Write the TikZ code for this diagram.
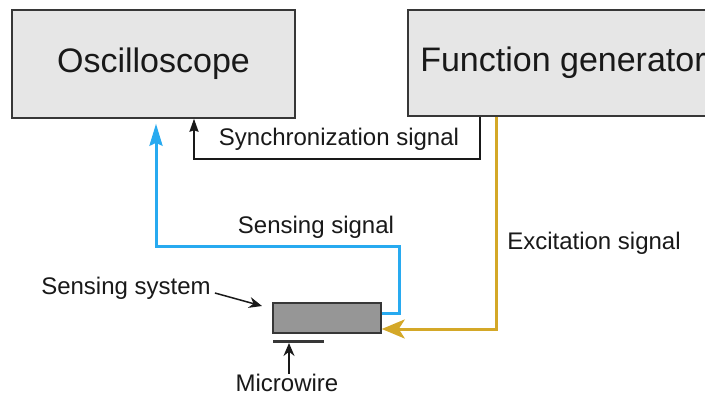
\documentclass[tikz,border=0pt]{standalone}
\usepackage{fontspec}
\setmainfont{Liberation Sans}
\usetikzlibrary{arrows.meta}
\definecolor{boxfill}{RGB}{230,230,230}
\definecolor{boxline}{RGB}{55,55,55}
\definecolor{sigblue}{RGB}{40,170,240}
\definecolor{siggold}{RGB}{212,168,40}
\definecolor{sensfill}{RGB}{150,150,150}
\definecolor{txt}{RGB}{25,25,25}
\tikzset{
  bigbox/.style={draw=boxline, line width=1.5pt, fill=boxfill, inner sep=0pt, text=txt, font=\fontsize{34}{40}\selectfont},
  lbl/.style={inner sep=0pt, text=txt, font=\fontsize{24}{29}\selectfont},
  syncline/.style={draw=txt, line width=1.8pt, -{Stealth[length=13pt,width=9pt,inset=1.5pt]}},
  blueline/.style={draw=sigblue, line width=3pt, -{Stealth[length=22pt,width=13pt,inset=3pt]}},
  goldline/.style={draw=siggold, line width=3pt, -{Stealth[length=23pt,width=19pt,inset=6pt]}},
  pointer/.style={draw=txt, line width=1.5pt, -{Stealth[length=13pt,width=11pt]}}
}
\begin{document}
\begin{tikzpicture}[x=1pt,y=-1pt]
\clip (0,0) rectangle (705,396);
\fill[white] (0,0) rectangle (705,396);
% boxes
\node[bigbox, minimum width=283pt, minimum height=108pt] (osc) at (153.5,64) {Oscilloscope};
\node[bigbox, minimum width=310pt, minimum height=106pt] (fg) at (563,63) {Function generator};
% sensing element
\node[draw=boxline, line width=1.5pt, fill=sensfill, minimum width=108pt, minimum height=30pt, inner sep=0pt] (sens) at (327,318) {};
\coordinate (mwL) at (273,341);
\coordinate (mwR) at (324,341);
\draw[draw=boxline, line width=3pt] (mwL) -- (mwR);
% labels
\node[lbl] (synclbl) at (339,139) {Synchronization signal};
\node[lbl] (senslbl) at (316,227) {Sensing signal};
\node[lbl] (exclbl) at (594,243) {Excitation signal};
\node[lbl] (syslbl) at (126,288) {Sensing system};
\node[lbl] (mwlbl) at (287,383) {Microwire};
% synchronization connector
\coordinate (syncR) at (480,159);
\coordinate (syncL) at (194,159);
\draw[syncline] (fg.south -| syncR) -- (syncR) -- (syncL) -- (osc.south -| syncL);
% sensing connector
\coordinate (bR) at (399,313);
\coordinate (bTR) at (399,246);
\coordinate (bTL) at (156,246);
\draw[blueline, shorten >=5pt] (sens.east |- bR) -- (bR) -- (bTR) -- (bTL) -- (osc.south -| bTL);
% excitation connector
\coordinate (gT) at (496,0);
\coordinate (gB) at (496,329);
\draw[goldline] (fg.south -| gT) -- (gB) -- (gB -| sens.east);
% pointers
\coordinate (sysTip) at (262,306);
\draw[pointer] ([xshift=4pt,yshift=-5pt]syslbl.east) -- (sysTip);
\coordinate (mwTip) at (289,343);
\draw[pointer] (mwlbl.north -| mwTip) -- (mwTip);
\end{tikzpicture}
\end{document}
